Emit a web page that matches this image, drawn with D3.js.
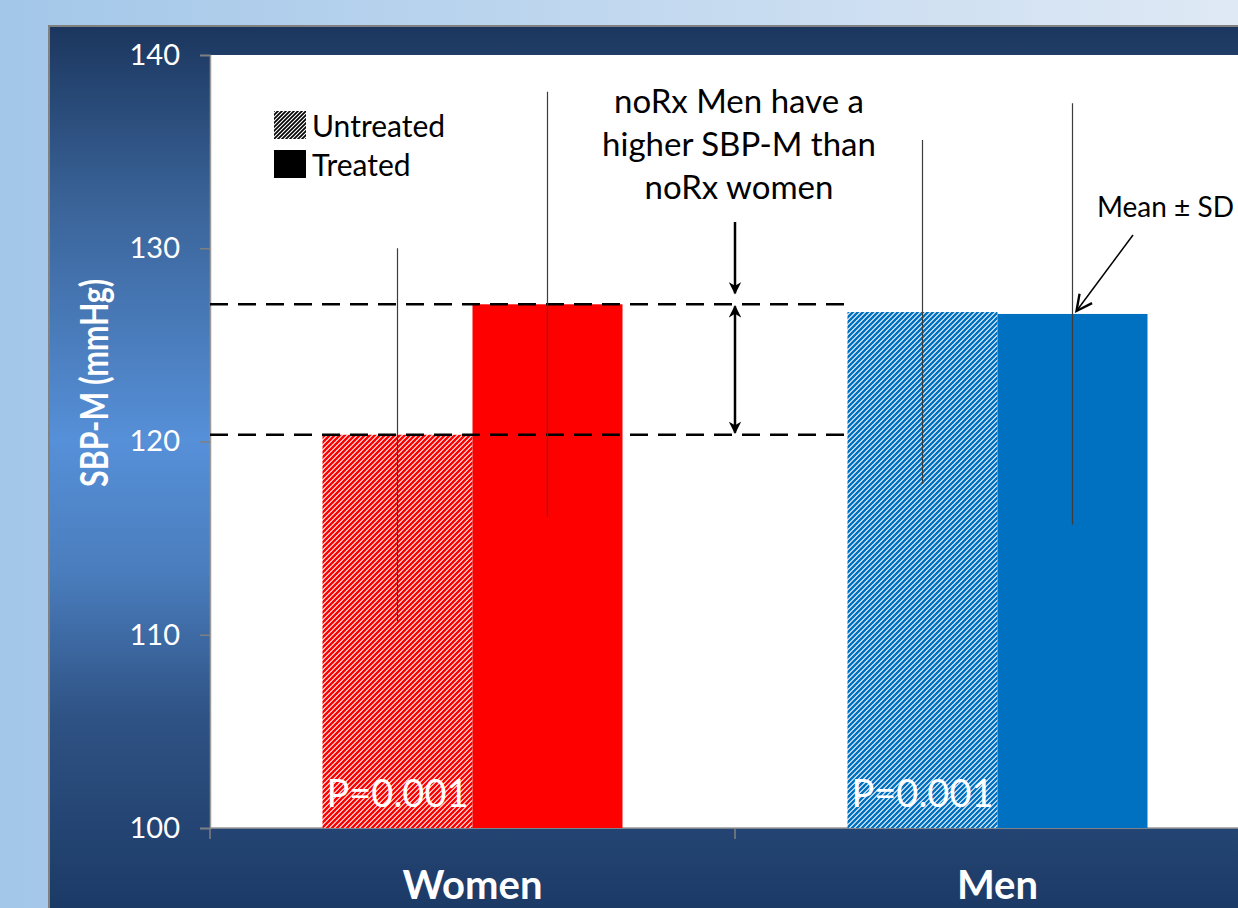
<!DOCTYPE html>
<html>
<head>
<meta charset="utf-8">
<script src="https://cdn.jsdelivr.net/npm/d3@7"></script>
<style>
  html, body { margin: 0; padding: 0; overflow: hidden; }
  svg { display: block; font-family: Lato, "Open Sans", sans-serif; }
</style>
</head>
<body>
<script>
// Systolic blood pressure (SBP-M), mean ± SD, by sex and treatment status
const groups = ["Women", "Men"];
const treatments = ["Untreated", "Treated"];
const meanUntreated = [120.35, 126.7];
const meanTreated = [127.1, 126.6];
const sdUntreated = [9.65, 8.9];
const sdTreated = [11.0, 10.9];
const yTicks = [100, 110, 120, 130, 140];
const groupColors = ["#ff0000", "#0070c0"];
const pLabels = ["P=0.001", "P=0.001"];
const noteLines = ["noRx Men have a", "higher SBP-M than", "noRx women"];

const W = 1238, H = 908;
const svg = d3.select("body").append("svg").attr("width", W).attr("height", H);
const defs = svg.append("defs");

// backdrop gradients
const bg = defs.append("linearGradient").attr("id", "bg").attr("x1", 0).attr("x2", 1).attr("y1", 0).attr("y2", 0);
bg.append("stop").attr("offset", 0).attr("stop-color", "#a3c7e9");
bg.append("stop").attr("offset", 1).attr("stop-color", "#dfe9f5");
const panel = defs.append("linearGradient").attr("id", "panel")
  .attr("gradientUnits", "userSpaceOnUse").attr("x1", 0).attr("x2", 0).attr("y1", 26).attr("y2", 908);
panel.append("stop").attr("offset", 0).attr("stop-color", "#1b365e");
panel.append("stop").attr("offset", 0.2).attr("stop-color", "#3a6398");
panel.append("stop").attr("offset", 0.47).attr("stop-color", "#5690d8");
panel.append("stop").attr("offset", 0.62).attr("stop-color", "#4a7dbd");
panel.append("stop").attr("offset", 0.78).attr("stop-color", "#2f5385");
panel.append("stop").attr("offset", 1).attr("stop-color", "#1c3a66");

// diagonal hatch fills
function hatch(id, color, size, sw) {
  const p = defs.append("pattern").attr("id", id).attr("patternUnits", "userSpaceOnUse")
    .attr("width", size).attr("height", size);
  p.append("rect").attr("width", size).attr("height", size).attr("fill", "#fff");
  p.append("path")
    .attr("d", `M-1,1 l2,-2 M0,${size} l${size},-${size} M${size - 1},${size + 1} l2,-2`)
    .attr("stroke", color).attr("stroke-width", sw);
}
hatch("hatch0", groupColors[0], 5, 2.5);
hatch("hatch1", groupColors[1], 5, 2.5);
hatch("hatchK", "#000", 4, 1.7);

svg.append("rect").attr("width", W).attr("height", H).attr("fill", "url(#bg)");
svg.append("rect").attr("x", 49).attr("y", 26).attr("width", W).attr("height", H)
  .attr("fill", "url(#panel)").attr("stroke", "#808080").attr("stroke-width", 2);

// scales
const plotL = 210, plotT = 55, plotB = 828, plotR = 1260;
const y = d3.scaleLinear().domain([100, 140]).range([plotB, plotT]);
const x = d3.scaleBand().domain(groups).range([plotL, plotR]).paddingInner(0).paddingOuter(0);
const xs = d3.scaleBand().domain(treatments).range([0, x.bandwidth()]).paddingInner(0).paddingOuter(0.75);

svg.append("rect").attr("x", plotL).attr("y", plotT).attr("width", plotR - plotL).attr("height", plotB - plotT)
  .attr("fill", "#fff");

// y axis
const yAxis = svg.append("g").attr("transform", `translate(${plotL},0)`)
  .call(d3.axisLeft(y).tickValues(yTicks).tickSize(10).tickPadding(20).tickFormat(d3.format("d")));
yAxis.select(".domain").attr("stroke", "#9a9a9a").attr("stroke-width", 1.5);
yAxis.selectAll(".tick line").attr("stroke", "#7f7f7f").attr("stroke-width", 1.5);
yAxis.selectAll(".tick text").attr("fill", "#fff").attr("font-size", 29).attr("font-family", "Lato, sans-serif");

// x axis
const xAxisG = svg.append("g").attr("transform", `translate(0,${plotB})`);
xAxisG.append("line").attr("x1", plotL).attr("x2", plotR).attr("stroke", "#9a9a9a").attr("stroke-width", 1.5);
xAxisG.selectAll(".xt").data(groups).join("line")
  .attr("x1", d => x(d)).attr("x2", d => x(d)).attr("y1", 0).attr("y2", 11)
  .attr("stroke", "#7f7f7f").attr("stroke-width", 1.5);
xAxisG.selectAll(".xl").data(groups).join("text")
  .attr("x", d => x(d) + x.bandwidth() / 2).attr("y", 71)
  .attr("text-anchor", "middle").attr("fill", "#fff").attr("font-weight", "bold").attr("font-size", 40)
  .text(d => d);

// y axis title
svg.append("text").attr("transform", `translate(108,${(y(120) + y(130)) / 2 + 38}) rotate(-90)`)
  .attr("text-anchor", "middle").attr("fill", "#fff").attr("font-weight", "bold")
  .style("font-size", "38px").attr("textLength", 208).attr("lengthAdjust", "spacingAndGlyphs")
  .text("SBP-M (mmHg)");

// bars
const rows = [];
groups.forEach((g, i) => {
  rows.push({ g, i, t: "Untreated", mean: meanUntreated[i], sd: sdUntreated[i], fill: `url(#hatch${i})` });
  rows.push({ g, i, t: "Treated", mean: meanTreated[i], sd: sdTreated[i], fill: groupColors[i] });
});
svg.append("g").selectAll("rect").data(rows).join("rect")
  .attr("x", d => x(d.g) + xs(d.t)).attr("width", xs.bandwidth())
  .attr("y", d => y(d.mean)).attr("height", d => y(100) - y(d.mean))
  .attr("fill", d => d.fill);

// reference dashed lines at women's means
const dashEnd = x("Men") + xs("Untreated");
[meanTreated[0], meanUntreated[0]].forEach(v => {
  svg.append("line").attr("x1", plotL).attr("x2", dashEnd).attr("y1", y(v)).attr("y2", y(v))
    .attr("stroke", "#000").attr("stroke-width", 2.5).attr("stroke-dasharray", "18,10");
});

// error bars (mean ± SD)
svg.append("g").selectAll("line").data(rows).join("line")
  .attr("x1", d => x(d.g) + xs(d.t) + xs.bandwidth() / 2)
  .attr("x2", d => x(d.g) + xs(d.t) + xs.bandwidth() / 2)
  .attr("y1", d => y(d.mean + d.sd)).attr("y2", d => y(d.mean - d.sd))
  .attr("stroke", "#3c3c3c").attr("stroke-width", 1.2);

// P values
svg.append("g").selectAll("text").data(groups).join("text")
  .attr("x", d => x(d) + xs("Untreated") + xs.bandwidth() / 2).attr("y", 807)
  .attr("text-anchor", "middle").attr("fill", "#fff").attr("font-size", 38)
  .text((d, i) => pLabels[i]);

// arrow markers
defs.append("marker").attr("id", "head").attr("viewBox", "0 0 10 10").attr("refX", 9).attr("refY", 5)
  .attr("markerWidth", 5).attr("markerHeight", 5).attr("markerUnits", "strokeWidth").attr("orient", "auto-start-reverse")
  .append("path").attr("d", "M0,0 L10,5 L0,10 L3,5 Z").attr("fill", "#000");
defs.append("marker").attr("id", "open").attr("viewBox", "0 0 10 10").attr("refX", 9).attr("refY", 5)
  .attr("markerWidth", 13).attr("markerHeight", 13).attr("markerUnits", "strokeWidth").attr("orient", "auto")
  .append("path").attr("d", "M1,1 L9,5 L1,9").attr("fill", "none").attr("stroke", "#000").attr("stroke-width", 1.2);

// difference annotation
const ax = x("Men");
svg.append("line").attr("x1", ax).attr("x2", ax).attr("y1", 222).attr("y2", y(meanTreated[0]) - 11)
  .attr("stroke", "#000").attr("stroke-width", 2.5).attr("marker-end", "url(#head)");
svg.append("line").attr("x1", ax).attr("x2", ax).attr("y1", y(meanTreated[0]) + 2).attr("y2", y(meanUntreated[0]) - 2)
  .attr("stroke", "#000").attr("stroke-width", 2.5)
  .attr("marker-start", "url(#head)").attr("marker-end", "url(#head)");
svg.append("g").selectAll("text").data(noteLines).join("text")
  .attr("x", 739).attr("y", (d, i) => 113 + i * 43)
  .attr("text-anchor", "middle").attr("fill", "#000").attr("font-size", 33)
  .text(d => d);

// Mean ± SD callout
svg.append("text").attr("x", 1097).attr("y", 217).attr("fill", "#000").attr("font-size", 28).text("Mean ± SD");
svg.append("line").attr("x1", 1133).attr("y1", 235)
  .attr("x2", x("Men") + xs("Treated") + xs.bandwidth() / 2 + 4).attr("y2", y(meanTreated[1]) - 3)
  .attr("stroke", "#000").attr("stroke-width", 1.5).attr("marker-end", "url(#open)");

// legend
const leg = svg.append("g").attr("transform", "translate(274,111)");
treatments.forEach((t, i) => {
  leg.append("rect").attr("x", 0).attr("y", i * 39).attr("width", 32).attr("height", 28)
    .attr("fill", i === 0 ? "url(#hatchK)" : "#000");
  leg.append("text").attr("x", 38).attr("y", i * 39 + 26).attr("fill", "#000").attr("font-size", 30).text(t);
});
</script>
</body>
</html>
